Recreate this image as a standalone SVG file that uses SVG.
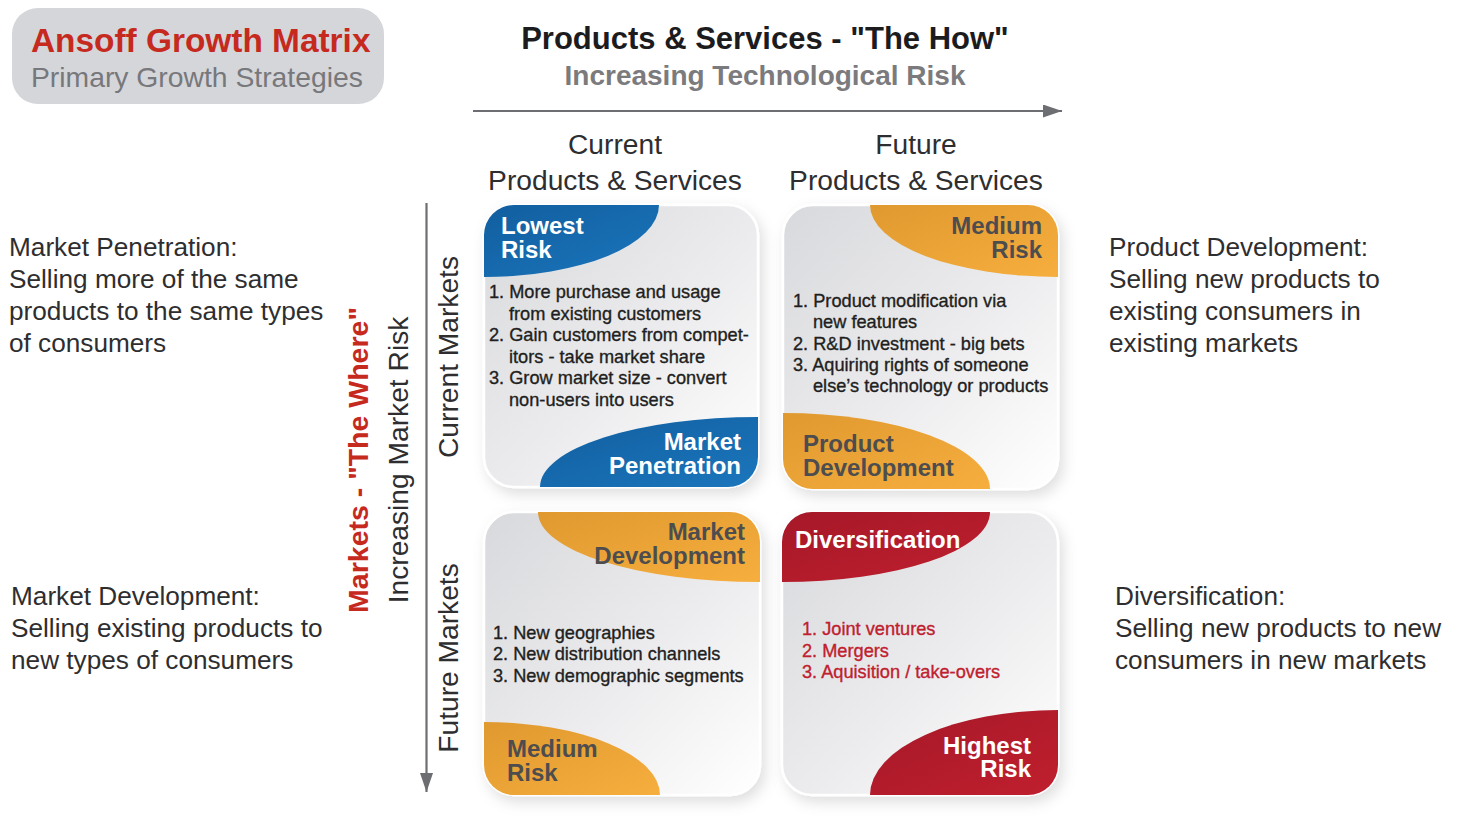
<svg xmlns="http://www.w3.org/2000/svg" width="1457" height="828" viewBox="0 0 1457 828">
  <defs>
    <style>
      .sans { font-family: "Liberation Sans", Arial, sans-serif; }
      .side { font-family: "Liberation Sans", Arial, sans-serif; font-size: 26.2px; fill: #2e2e30; }
      .axis { font-family: "Liberation Sans", Arial, sans-serif; font-size: 28.2px; fill: #2e2e30; }
      .tag { font-family: "Liberation Sans", Arial, sans-serif; font-size: 24px; font-weight: bold; }
      .list { font-family: "Liberation Sans", Arial, sans-serif; font-size: 18.2px; fill: #1f1f21; stroke: #1f1f21; stroke-width: 0.35px; }
      .red-list { fill: #c0202e; stroke: #c0202e; }
      .white { fill: #ffffff; }
      .grey { fill: #4d4d4f; }
      .card { fill: url(#cardFill); stroke: #ffffff; stroke-width: 2.5; filter: url(#cardShadow); }
      .conn { stroke: #6d6e71; stroke-width: 2.2; fill: none; }
    </style>
    <linearGradient id="cardFill" x1="0" y1="0" x2="1" y2="1">
      <stop offset="0" stop-color="#d8d9dc"/>
      <stop offset="0.55" stop-color="#ececee"/>
      <stop offset="1" stop-color="#ffffff"/>
    </linearGradient>
    <linearGradient id="blueFill" x1="0" y1="0" x2="1" y2="1">
      <stop offset="0" stop-color="#115e9f"/>
      <stop offset="1" stop-color="#1b76bc"/>
    </linearGradient>
    <linearGradient id="orangeFill" x1="0" y1="0" x2="1" y2="1">
      <stop offset="0" stop-color="#e0992f"/>
      <stop offset="1" stop-color="#f6ae3e"/>
    </linearGradient>
    <linearGradient id="redFill" x1="0" y1="0" x2="1" y2="1">
      <stop offset="0" stop-color="#a51828"/>
      <stop offset="1" stop-color="#c01f2e"/>
    </linearGradient>
    <filter id="cardShadow" x="-20%" y="-20%" width="140%" height="140%">
      <feDropShadow dx="4" dy="6" stdDeviation="7" flood-color="#000000" flood-opacity="0.13"/>
    </filter>
    <clipPath id="clipTL"><rect x="484" y="205" width="274" height="282" rx="30"/></clipPath>
    <clipPath id="clipTR"><rect x="783" y="205" width="275" height="284" rx="30"/></clipPath>
    <clipPath id="clipBL"><rect x="484" y="512" width="276" height="283" rx="30"/></clipPath>
    <clipPath id="clipBR"><rect x="782" y="512" width="276" height="283" rx="30"/></clipPath>
    <marker id="arrowHead" viewBox="0 0 19 13" refX="19" refY="6.5" markerWidth="19" markerHeight="13" markerUnits="userSpaceOnUse" orient="auto">
      <path d="M0,0 L19,6.5 L0,13 Z" fill="#6d6e71"/>
    </marker>
  </defs>

  <rect width="1457" height="828" fill="#ffffff"/>

  <!-- Title badge -->
  <g id="title">
    <rect x="12" y="8" width="372" height="96" rx="26" fill="#d5d6da"/>
    <text class="sans" x="31" y="52" font-size="33.4" font-weight="bold" fill="#c62a1f">Ansoff Growth Matrix</text>
    <text class="sans" x="31" y="87" font-size="28.3" fill="#77787b">Primary Growth Strategies</text>
  </g>

  <!-- Horizontal axis headings -->
  <g id="products-axis">
    <text class="sans" x="765" y="49" font-size="31" font-weight="bold" fill="#1c1c1e" text-anchor="middle">Products &amp; Services - "The How"</text>
    <text class="sans" x="765" y="85" font-size="28" font-weight="bold" fill="#7b7b7e" text-anchor="middle">Increasing Technological Risk</text>
    <text class="axis" x="615" y="154" text-anchor="middle">Current</text>
    <text class="axis" x="615" y="190" text-anchor="middle">Products &amp; Services</text>
    <text class="axis" x="916" y="154" text-anchor="middle">Future</text>
    <text class="axis" x="916" y="190" text-anchor="middle">Products &amp; Services</text>
  </g>

  <!-- Vertical axis headings -->
  <g id="markets-axis">
    <text class="sans" transform="translate(368 460) rotate(-90)" font-size="28.5" font-weight="bold" fill="#c62a1f" text-anchor="middle">Markets - "The Where"</text>
    <text class="axis" transform="translate(408 460) rotate(-90)" text-anchor="middle">Increasing Market Risk</text>
    <text class="axis" transform="translate(458 357) rotate(-90)" text-anchor="middle">Current Markets</text>
    <text class="axis" transform="translate(458 658) rotate(-90)" text-anchor="middle">Future Markets</text>
  </g>

  <!-- Axis arrows -->
  <g id="connectors">
    <line class="conn" x1="473" y1="111" x2="1062" y2="111" marker-end="url(#arrowHead)"/>
    <line class="conn" x1="426.5" y1="203" x2="426.5" y2="792" marker-end="url(#arrowHead)"/>
  </g>

  <!-- Market Penetration -->
  <g id="market-penetration">
    <rect class="card" x="484" y="205" width="274" height="282" rx="30"/>
    <g clip-path="url(#clipTL)">
      <path d="M484,205 L659,205 A175,72 0 0 1 484,277 Z" fill="url(#blueFill)"/>
      <path d="M758,487 L540,487 A218,70 0 0 1 758,417 Z" fill="url(#blueFill)"/>
    </g>
    <text class="tag white"><tspan x="501" y="234">Lowest</tspan><tspan x="501" y="258">Risk</tspan></text>
    <text class="list" x="489" y="298">1. More purchase and usage</text>
    <text class="list" x="509" y="320">from existing customers</text>
    <text class="list" x="489" y="341">2. Gain customers from compet-</text>
    <text class="list" x="509" y="363">itors - take market share</text>
    <text class="list" x="489" y="384">3. Grow market size - convert</text>
    <text class="list" x="509" y="406">non-users into users</text>
    <text class="tag white" text-anchor="end"><tspan x="741" y="450">Market</tspan><tspan x="741" y="474">Penetration</tspan></text>
  </g>

  <!-- Product Development -->
  <g id="product-development">
    <rect class="card" x="783" y="205" width="275" height="284" rx="30"/>
    <g clip-path="url(#clipTR)">
      <path d="M1058,205 L870,205 A188,72 0 0 0 1058,277 Z" fill="url(#orangeFill)"/>
      <path d="M783,489 L783,413 A207,76 0 0 1 990,489 Z" fill="url(#orangeFill)"/>
    </g>
    <text class="tag grey" text-anchor="end"><tspan x="1042" y="234">Medium</tspan><tspan x="1042" y="258">Risk</tspan></text>
    <text class="list" x="793" y="307">1. Product modification via</text>
    <text class="list" x="813" y="328">new features</text>
    <text class="list" x="793" y="350">2. R&amp;D investment - big bets</text>
    <text class="list" x="793" y="371">3. Aquiring rights of someone</text>
    <text class="list" x="813" y="392">else’s technology or products</text>
    <text class="tag grey"><tspan x="803" y="452">Product</tspan><tspan x="803" y="476">Development</tspan></text>
  </g>

  <!-- Market Development -->
  <g id="market-development">
    <rect class="card" x="484" y="512" width="276" height="283" rx="30"/>
    <g clip-path="url(#clipBL)">
      <path d="M760,512 L538,512 A222,70 0 0 0 760,582 Z" fill="url(#orangeFill)"/>
      <path d="M484,795 L484,722 A176,73 0 0 1 660,795 Z" fill="url(#orangeFill)"/>
    </g>
    <text class="tag grey" text-anchor="end"><tspan x="745" y="540">Market</tspan><tspan x="745" y="564">Development</tspan></text>
    <text class="list" x="493" y="639">1. New geographies</text>
    <text class="list" x="493" y="660">2. New distribution channels</text>
    <text class="list" x="493" y="682">3. New demographic segments</text>
    <text class="tag grey"><tspan x="507" y="757">Medium</tspan><tspan x="507" y="781">Risk</tspan></text>
  </g>

  <!-- Diversification -->
  <g id="diversification">
    <rect class="card" x="782" y="512" width="276" height="283" rx="30"/>
    <g clip-path="url(#clipBR)">
      <path d="M782,512 L990,512 A208,70 0 0 1 782,582 Z" fill="url(#redFill)"/>
      <path d="M1058,795 L870,795 A188,85 0 0 1 1058,710 Z" fill="url(#redFill)"/>
    </g>
    <text class="tag white" x="795" y="548">Diversification</text>
    <text class="list red-list" x="802" y="635">1. Joint ventures</text>
    <text class="list red-list" x="802" y="657">2. Mergers</text>
    <text class="list red-list" x="802" y="678">3. Aquisition / take-overs</text>
    <text class="tag white" text-anchor="end"><tspan x="1031" y="754">Highest</tspan><tspan x="1031" y="777">Risk</tspan></text>
  </g>

  <!-- Strategy descriptions -->
  <g id="desc-penetration">
    <text class="side" x="9" y="256">Market Penetration:</text>
    <text class="side" x="9" y="288">Selling more of the same</text>
    <text class="side" x="9" y="320">products to the same types</text>
    <text class="side" x="9" y="352">of consumers</text>
  </g>
  <g id="desc-product-development">
    <text class="side" x="1109" y="256">Product Development:</text>
    <text class="side" x="1109" y="288">Selling new products to</text>
    <text class="side" x="1109" y="320">existing consumers in</text>
    <text class="side" x="1109" y="352">existing markets</text>
  </g>
  <g id="desc-market-development">
    <text class="side" x="11" y="605">Market Development:</text>
    <text class="side" x="11" y="637">Selling existing products to</text>
    <text class="side" x="11" y="669">new types of consumers</text>
  </g>
  <g id="desc-diversification">
    <text class="side" x="1115" y="605">Diversification:</text>
    <text class="side" x="1115" y="637">Selling new products to new</text>
    <text class="side" x="1115" y="669">consumers in new markets</text>
  </g>
</svg>
